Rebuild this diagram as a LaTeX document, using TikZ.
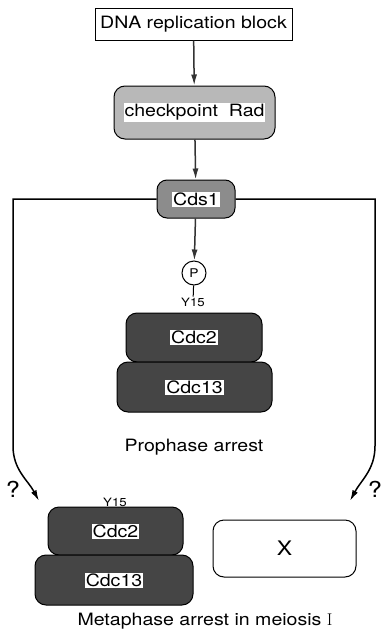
\documentclass[tikz,border=0pt]{standalone}
\usepackage{fontspec}
\setsansfont[FakeStretch=1.15]{TeX Gyre Heros}
\usetikzlibrary{positioning,arrows.meta}
\newcommand\hl[1]{{\setlength\fboxsep{1pt}\colorbox{white}{#1}}}
\definecolor{radgray}{gray}{0.72}
\definecolor{cdsgray}{gray}{0.55}
\definecolor{cdcgray}{gray}{0.27}
\tikzset{%
  >={Latex[length=11pt,width=6pt]},
  box/.style={draw,line width=1pt,rounded corners=11pt,
    font=\sffamily\fontsize{17}{20}\selectfont},
  plain box/.style={draw,line width=1pt,
    font=\sffamily\fontsize{17}{20}\selectfont},
  label text/.style={font=\sffamily\fontsize{17}{20}\selectfont},
  small text/.style={font=\sffamily\fontsize{11.5}{13}\selectfont,inner sep=1pt},
  qmark/.style={font=\sffamily\fontsize{22}{24}\selectfont},
  link/.style={->,line width=1.5pt,black!80}
}
\begin{document}
\begin{tikzpicture}[x=1pt,y=-1pt]
\useasboundingbox (0,0) rectangle (381,632);

%% the checkpoint chain
\node[plain box,minimum width=197pt,minimum height=32pt] (dna) at (193.5,24)
  {DNA replication block};
\node[box,fill=radgray,minimum width=161pt,minimum height=53pt] (rad)
  at (194.5,112.5) {\hl{checkpoint\ \ Rad}};
\node[box,fill=cdsgray,minimum width=78pt,minimum height=38pt,
  rounded corners=10pt] (cds) at (196,199) {\hl{Cds1}};
\node[draw,circle,line width=1pt,minimum size=24pt,inner sep=0pt,
  font=\sffamily\fontsize{12}{14}\selectfont] (P) at (194,273) {P};

%% prophase complex
\node[small text] (y15a) at (193,302) {Y15};
\node[box,fill=cdcgray,minimum width=136pt,minimum height=49pt] (cdc2a)
  at (194,337.5) {\hl{Cdc2}};
\node[box,fill=cdcgray,minimum width=155pt,minimum height=50pt] (cdc13a)
  at (194.5,387) {\hl{Cdc13}};
\node[label text] (pro) at (194,447) {Prophase arrest};

%% metaphase complex
\node[small text] (y15b) at (115,502) {Y15};
\node[box,fill=cdcgray,minimum width=135pt,minimum height=48pt] (cdc2b)
  at (115.5,531) {\hl{Cdc2}};
\node[box,fill=cdcgray,minimum width=158pt,minimum height=50pt] (cdc13b)
  at (114,580) {\hl{Cdc13}};
\node[box,minimum width=143pt,minimum height=57pt,
  font=\sffamily\fontsize{20}{22}\selectfont] (X) at (284.5,548.5) {X};
\node[label text] (meta) at (205,621) {Metaphase arrest in meiosis {\rmfamily I}};

%% question marks
\node[qmark] (qa) at (13,489) {?};
\node[qmark] (qb) at (375,489) {?};

%% end points of the branches
\coordinate (la) at (13,199);
\coordinate (lb) at (13,446);
\coordinate (lc) at (39,501);
\coordinate (ra) at (375,199);
\coordinate (rb) at (375,446);
\coordinate (rc) at (350,501);

\draw[link] (dna) -- (rad);
\draw[link] (rad) -- (cds);
\draw[link] (cds) -- (P);
\draw[line width=1pt] (P) -- (y15a);
\draw[link,black] (cds) -- (la) -- (lb) to[out=-90,in=118] (lc);
\draw[link,black] (cds) -- (ra) -- (rb) to[out=-90,in=62] (rc);

\end{tikzpicture}
\end{document}
